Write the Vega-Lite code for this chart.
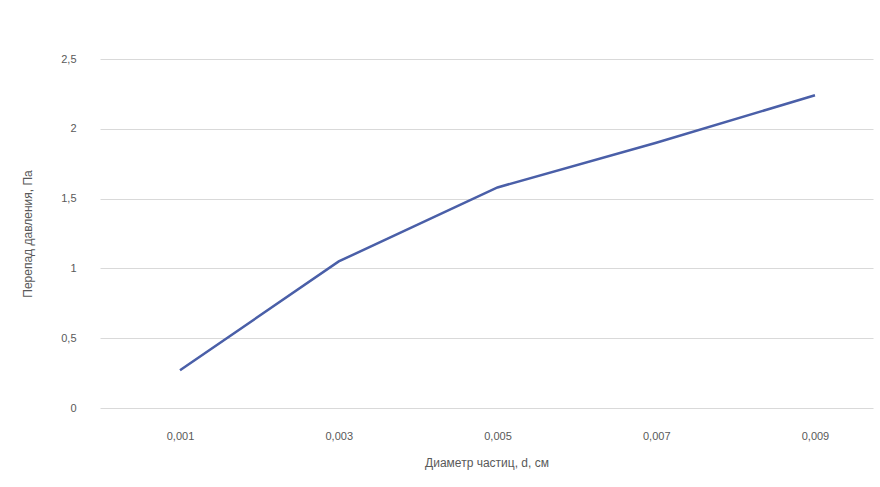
{
  "$schema": "https://vega.github.io/schema/vega-lite/v6.json",
  "width": 773,
  "height": 349,
  "autosize": {"type": "none"},
  "padding": {"left": 100, "top": 59, "right": 7, "bottom": 79},
  "background": "white",
  "config": {
    "view": {"stroke": null},
    "font": "Liberation Sans",
    "axis": {"labelColor": "#595959", "titleColor": "#595959", "labelFontSize": 11, "titleFontSize": 12, "titleFontWeight": "normal"}
  },
  "data": {"values": [
    {"d": 0.001, "p": 0.27},
    {"d": 0.003, "p": 1.05},
    {"d": 0.005, "p": 1.58},
    {"d": 0.007, "p": 1.9},
    {"d": 0.009, "p": 2.24}
  ]},
  "mark": {"type": "line", "color": "#4a5fa8", "strokeWidth": 2.5},
  "encoding": {
    "x": {"field": "d", "type": "quantitative",
      "scale": {"domain": [-0.000008, 0.009731], "nice": false, "zero": false},
      "axis": {"title": "Диаметр частиц, d, см", "values": [0.001, 0.003, 0.005, 0.007, 0.009], "format": ".3f", "labelExpr": "replace(datum.label, '.', ',')", "labelAngle": 0, "ticks": false, "domain": false, "grid": false, "labelPadding": 22, "titlePadding": 16}},
    "y": {"field": "p", "type": "quantitative",
      "scale": {"domain": [0, 2.5], "nice": false},
      "axis": {"title": "Перепад давления, Па", "values": [0, 0.5, 1, 1.5, 2, 2.5], "format": ".1~f", "labelExpr": "replace(datum.label, '.', ',')", "ticks": false, "domain": false, "gridColor": "#d9d9d9", "labelPadding": 24, "titlePadding": 26}}
  }
}
